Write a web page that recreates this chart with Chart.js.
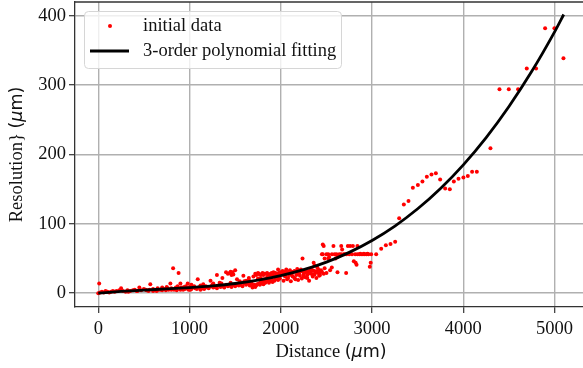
<!DOCTYPE html>
<html><head><meta charset="utf-8">
<script src="https://cdn.jsdelivr.net/npm/chart.js@4/dist/chart.umd.min.js"></script>
<style>html,body{margin:0;padding:0;background:#fff;overflow:hidden;width:583px;height:368px}</style>
</head><body>
<canvas id="c" width="590" height="368" style="width:590px;height:368px;display:block"></canvas>
<script>
// ---- data ----
const seriesLabels = ['initial data', '3-order polynomial fitting'];
const xTitle = 'Distance (μm)';
const yTitle = 'Resolution} (μm)';
const xTicks = [0, 1000, 2000, 3000, 4000, 5000];
const yTicks = [0, 100, 200, 300, 400];

// measured points: [distance, resolution]
const pointsNear = [
 [0,0],[10,14],[20,1],[40,2],[60,1],[80,3],[100,2],[120,1],[140,2],[160,3],[180,2],[200,3],[230,4],[250,7],[270,3],
 [300,2],[320,4],[350,3],[380,4],[400,5],[420,3],[450,8],[470,4],[500,6],[520,5],[550,3],[570,13],[600,6],[600,3],
 [620,4],[650,7],[680,5],[700,8],[700,4],[720,6],[750,9],[770,5],[790,14],[800,7],[800,5],[820,36],[830,5],[850,8],
 [870,10],[880,29],[900,14],[900,5],[920,7],[940,9],[950,6],[960,10],[980,14],[1000,9],
 [330,2],[430,3],[530,4],[560,5],[640,3],[660,5],[740,4],[760,7],[840,6],[860,4],[910,8],[930,5],[970,7],[990,5]
];
const pointsMid = [
 [1020,12],[1050,10],[1090,20],[1120,11],[1150,13],[1180,10],[1230,18],[1260,14],[1300,26],[1330,15],[1360,22],
 [1400,30],[1420,28],[1450,31],[1480,27],[1500,33],[1520,20],[1550,16],[1590,25],[1620,18],[1650,22],[1680,16],
 [1700,24],[1720,28],[1750,29],[1770,27],[1800,29],[1820,28],[1850,29],[1880,27],[1900,29],[1920,30],[1950,28],
 [1970,34],[1990,30],[2000,28],
 [1020,6],[1060,7],[1100,8],[1140,7],[1180,8],[1200,9],[1240,10],[1280,9],[1320,11],[1360,10],[1400,12],[1440,11],
 [1480,12],[1520,13],[1560,12],[1600,14],[1640,15],[1680,12],[1700,10],[1720,9],[1740,13],[1760,14],[1780,16],
 [1800,17],[1830,15],[1860,19],[1880,17],[1900,20],[1930,18],[1960,22],[1990,21],
 [1050,9],[1150,9],[1250,12],[1350,14],[1450,15],[1550,17],[1650,19],[1750,21],[1850,23],[1950,25],
 [1010,5],[1080,6],[1120,5],[1160,6],[1210,7],[1260,8],[1300,7],[1340,9],[1380,8],[1420,10],[1460,9],[1500,10],
 [1540,11],[1580,10],[1620,12],[1660,11],[1690,8],[1710,12],[1730,11],[1770,12],[1790,14],[1810,13],[1840,17],
 [1870,15],[1890,18],[1910,16],[1940,20],[1970,19],[1730,26],[1760,28],[1790,27],[1810,26],[1840,28],[1860,27],
 [1890,28],[1910,27],[1940,29],[1960,28],[1980,29],[1440,29],[1460,26],[1470,30],[1600,17],[1660,14],[1780,22],
 [1820,20],[1880,22],[1920,24],[1980,26]
];
const pointsBand = [
 [2020,32],[2040,25],[2060,34],[2080,22],[2100,33],[2120,26],[2140,31],[2160,20],[2180,35],[2200,28],[2220,34],
 [2238,50],[2250,24],[2270,33],[2290,22],[2310,29],[2330,35],[2350,27],[2360,44],[2370,40],[2380,30],[2400,37],
 [2420,25],[2440,33],[2450,56],[2460,70],[2470,68],[2480,36],[2480,50],[2500,29],[2520,50],[2540,33],[2559,37],
 [2577,68],[2590,56],[2600,50],[2621,30],[2640,56],[2662,68],[2672,63],[2690,56],[2716,29],[2735,68],[2750,56],
 [2760,68],[2780,56],[2790,68],[2800,46],[2815,56],[2820,44],[2830,41],[2840,68],[2860,56],[2880,56],[2900,56],
 [2920,56],[2940,56],[2960,56],[2975,38],[2985,44],[2990,56],
 [2030,18],[2070,20],[2110,17],[2150,22],[2190,19],[2230,21],[2270,23],[2310,18],[2350,24],[2390,22],[2430,26],
 [2470,28],[2460,56],[2500,56],[2520,56],[2560,56],[2610,56],[2660,56],[2700,56],[2720,56],[2840,56],[2870,57],
 [2910,57],[2950,57],[2530,52],[2620,52],
 [2010,30],[2030,29],[2050,31],[2070,30],[2090,29],[2110,31],[2130,30],[2150,32],[2170,31],[2190,30],[2210,31],
 [2230,32],[2250,31],[2270,30],[2290,31],[2310,32],[2330,31],[2350,33],[2370,32],[2390,31],[2410,34],[2430,30],
 [2050,24],[2090,26],[2130,24],[2170,26],[2210,25],[2250,27],[2290,26],[2330,28],[2370,27],[2410,29],[2450,31]
];
const pointsHigh = [
 [3045,56],[3100,64],[3151,69],[3202,71],[3253,74],[3297,108],[3348,128],[3399,133],[3447,152],[3502,156],
 [3552,161],[3600,168],[3651,171],[3699,173],[3746,164],[3801,151],[3852,150],[3896,161],[3947,165],[4001,167],
 [4049,169],[4096,175],[4148,175],[4297,209],[4396,294],[4498,294],[4600,294],[4695,324],[4797,324],[4896,382],
 [4998,382],[5097,339]
];
// fitted curve
const fitX = [0,250,500,750,1000,1250,1500,1750,2000,2250,2500,2750,3000,3250,3500,3750,4000,4250,4500,4750,5000,5100];
const fitY = [0,2.5,4.4,6.1,8,10.5,13.9,18.7,25.2,33.8,44.8,58.8,76,96.8,121.7,151,185.1,224.4,269.3,320,377,402];

const allPoints = [...pointsNear, ...pointsMid, ...pointsBand, ...pointsHigh].map(p => ({x: p[0], y: p[1]}));
const fitPoints = fitX.map((x, i) => ({x, y: fitY[i]}));

const SERIF = '"Liberation Serif", "Times New Roman", serif';
const SANS = '"DejaVu Sans", sans-serif';
const FS = 18.5;

function drawMixed(ctx, text, cx, cy, rot) {
  const i = text.indexOf('(');
  const segs = [
    {t: text.slice(0, i), f: FS + 'px ' + SERIF},
    {t: '(', f: (FS - 1) + 'px ' + SANS},
    {t: 'μ', f: 'italic ' + (FS - 1) + 'px ' + SANS},
    {t: text.slice(text.indexOf('μ') + 1), f: (FS - 1) + 'px ' + SANS}
  ];
  let total = 0;
  segs.forEach(s => { ctx.font = s.f; s.w = ctx.measureText(s.t).width; total += s.w; });
  ctx.save();
  ctx.translate(cx, cy);
  ctx.rotate(rot);
  ctx.fillStyle = '#111';
  ctx.textBaseline = 'middle';
  ctx.textAlign = 'left';
  let x = -total / 2;
  segs.forEach(s => { ctx.font = s.f; ctx.fillText(s.t, x, 0); x += s.w; });
  ctx.restore();
}

const decor = {
  id: 'decor',
  afterDraw(chart) {
    const ctx = chart.ctx, a = chart.chartArea;
    ctx.save();
    ctx.strokeStyle = '#333';
    ctx.lineWidth = 1.3;
    ctx.beginPath();
    ctx.moveTo(a.left, a.top); ctx.lineTo(a.right, a.top); ctx.lineTo(a.right, a.bottom);
    ctx.stroke();
    ctx.restore();
    drawMixed(ctx, xTitle, (a.left + a.right) / 2, 352, 0);
    drawMixed(ctx, yTitle, 17, (a.top + a.bottom) / 2, -Math.PI / 2);
    const lx = 84, ly = 11, lw = 257, lh = 57, r = 4;
    ctx.save();
    ctx.beginPath();
    ctx.roundRect(lx + 0.5, ly + 0.5, lw, lh, r);
    ctx.fillStyle = 'rgba(255,255,255,0.8)';
    ctx.fill();
    ctx.strokeStyle = '#d6d6d6';
    ctx.lineWidth = 1;
    ctx.stroke();
    ctx.fillStyle = 'red';
    ctx.beginPath(); ctx.arc(110, 26, 2, 0, Math.PI * 2); ctx.fill();
    ctx.strokeStyle = '#000'; ctx.lineWidth = 2.8;
    ctx.beginPath(); ctx.moveTo(90, 51); ctx.lineTo(129, 51); ctx.stroke();
    ctx.fillStyle = '#111';
    ctx.font = FS + 'px ' + SERIF;
    ctx.textBaseline = 'middle';
    ctx.fillText(seriesLabels[0], 143, 26);
    ctx.fillText(seriesLabels[1], 143, 51);
    ctx.restore();
  }
};

const tickFont = {family: SERIF, size: FS};

new Chart(document.getElementById('c'), {
  type: 'scatter',
  data: {
    datasets: [
      {label: seriesLabels[1], type: 'line', data: fitPoints, borderColor: '#000', borderWidth: 2.8,
       pointRadius: 0, cubicInterpolationMode: 'monotone', fill: false, order: 0},
      {label: seriesLabels[0], data: allPoints, backgroundColor: '#ff0000', borderWidth: 0,
       pointRadius: 2, pointHoverRadius: 2, order: 1}
    ]
  },
  options: {
    responsive: false,
    animation: false,
    devicePixelRatio: 1,
    layout: {padding: {left: 0, top: 2, right: 3, bottom: 0}},
    plugins: {legend: {display: false}, tooltip: {enabled: false}},
    scales: {
      x: {
        type: 'linear', min: -255, max: 5355,
        afterBuildTicks: s => { s.ticks = xTicks.map(v => ({value: v})); },
        afterFit: s => { s.height = 61; s.paddingLeft = 0; s.paddingRight = 0; },
        ticks: {font: tickFont, color: '#111', padding: 5, maxRotation: 0, autoSkip: false, callback: v => String(v)},
        grid: {color: '#b0b0b0', lineWidth: 1.4, tickLength: 6, tickColor: '#333', tickWidth: 1.2},
        border: {color: '#333', width: 1.3}
      },
      y: {
        type: 'linear', min: -20, max: 420,
        afterBuildTicks: s => { s.ticks = yTicks.map(v => ({value: v})); },
        afterFit: s => { s.width = 75; s.paddingTop = 0; s.paddingBottom = 0; },
        ticks: {font: tickFont, color: '#111', padding: 3, autoSkip: false, callback: v => String(v)},
        grid: {color: '#b0b0b0', lineWidth: 1.4, tickLength: 6, tickColor: '#333', tickWidth: 1.2},
        border: {color: '#333', width: 1.3}
      }
    }
  },
  plugins: [decor]
});
</script>
</body></html>
